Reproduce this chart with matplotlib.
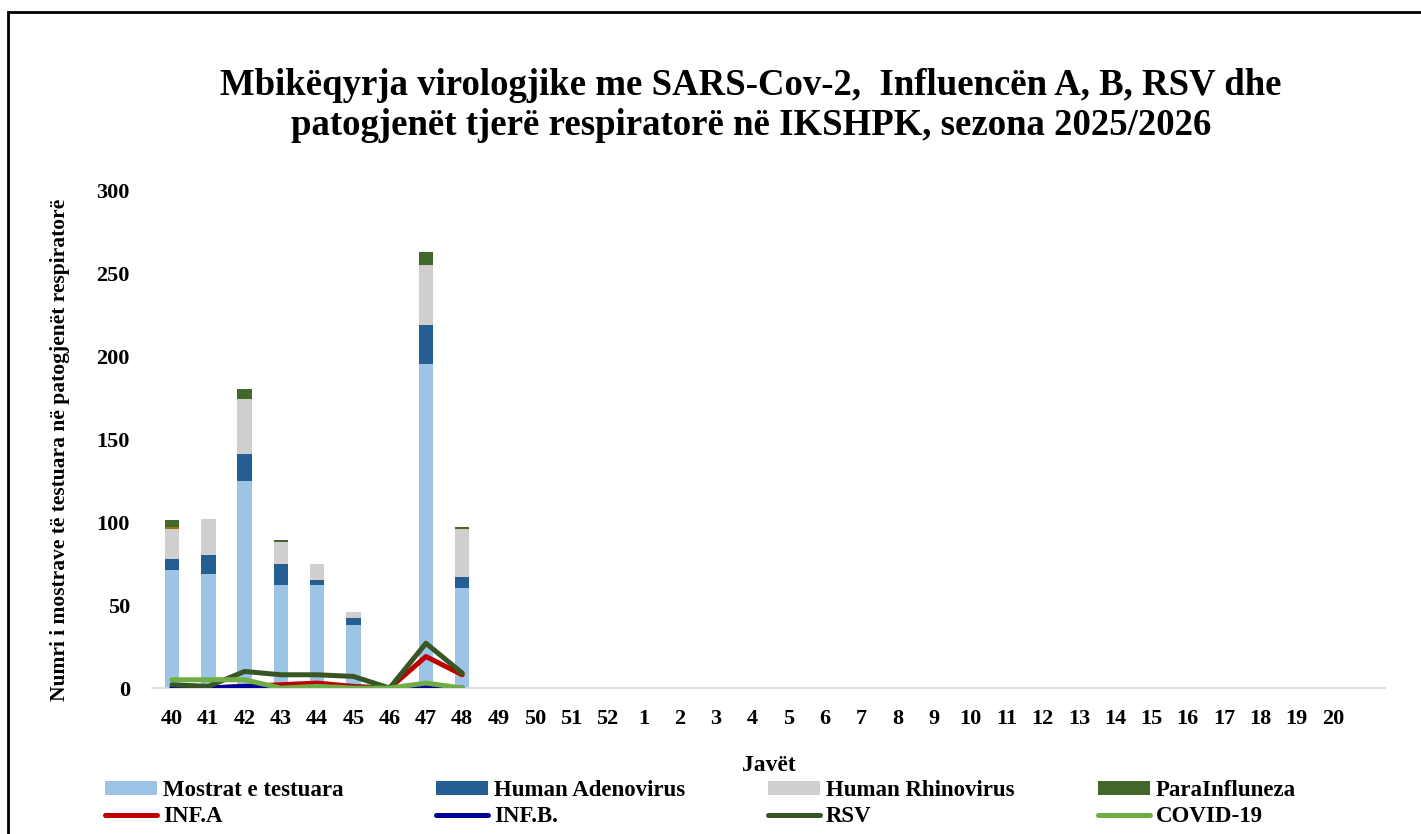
import matplotlib
matplotlib.use("Agg")
import matplotlib.pyplot as plt
from matplotlib.patches import Rectangle
import numpy as np

plt.rcParams['font.family'] = ['Liberation Serif', 'DejaVu Serif']
plt.rcParams['font.weight'] = 'bold'

# ---- data ----
weeks = ['40', '41', '42', '43', '44', '45', '46', '47', '48', '49', '50', '51', '52',
         '1', '2', '3', '4', '5', '6', '7', '8', '9', '10', '11', '12', '13', '14',
         '15', '16', '17', '18', '19', '20']
mostrat = [71, 69, 125, 62, 62, 38, 0, 195, 60]
adeno = [7, 11, 16, 13, 3, 4, 0, 24, 7]
rhino = [18, 22, 33, 13, 10, 4, 0, 36, 29]
tjeter = [1, 0, 0, 0, 0, 0, 0, 0, 0]
para = [4, 0, 6, 1, 0, 0, 0, 8, 1]
inf_a = [0, 0, 1, 2, 3, 1, 0, 19, 8]
inf_b = [0, 0, 1, 0, 0, 0, 0, 1, 0]
rsv = [2, 1, 10, 8, 8, 7, 0, 27, 9]
covid = [5, 5, 5, 0, 1, 0, 0, 3, 0]

fig = plt.figure(figsize=(14.21, 8.34), dpi=100)
ax = fig.add_axes([0.107, 0.175, 0.868, 0.597])

x = np.arange(len(mostrat))
w = 0.4
bottom = np.zeros(len(x))
bar_specs = [(mostrat, '#9DC3E6', 'Mostrat e testuara'),
             (adeno, '#255E91', 'Human Adenovirus'),
             (rhino, '#D0CECE', 'Human Rhinovirus'),
             (tjeter, '#9E7800', None),
             (para, '#43682B', 'ParaInfluneza')]
bars = {}
for vals, col, lab in bar_specs:
    b = ax.bar(x, vals, w, bottom=bottom, color=col, zorder=2)
    if lab:
        bars[lab] = b
    bottom += np.array(vals)

lines = {}
for vals, col, lab in [(inf_a, '#C00000', 'INF.A'),
                       (inf_b, '#000099', 'INF.B.'),
                       (rsv, '#375623', 'RSV'),
                       (covid, '#70AD47', 'COVID-19')]:
    ln, = ax.plot(x, vals, color=col, lw=3.6, solid_capstyle='round', zorder=3)
    lines[lab] = ln

ax.set_xlim(-0.55, 33.45)
ax.set_ylim(0, 300)
ax.set_xticks(np.arange(len(weeks)))
ax.set_xticklabels(weeks)
ax.set_yticks(range(0, 301, 50))
ax.tick_params(axis='both', length=0, labelsize=16)
ax.tick_params(axis='x', pad=15)
ax.tick_params(axis='y', pad=16)
for s in ['top', 'right', 'left']:
    ax.spines[s].set_visible(False)
ax.spines['bottom'].set_color('#D9D9D9')
ax.spines['bottom'].set_linewidth(1.2)

ax.set_ylabel('Numri i mostrave të testuara në patogjenët respiratorë',
              fontsize=15.5, fontweight='bold', labelpad=18)
ax.yaxis.set_label_coords(-0.0665, 0.478)
ax.set_xlabel('Javët', fontsize=17, fontweight='bold', labelpad=19)

fig.text(0.5285, 0.873,
         'Mbikëqyrja virologjike me SARS-Cov-2,  Influencën A, B, RSV dhe\n'
         'patogjenët tjerë respiratorë në IKSHPK, sezona 2025/2026',
         ha='center', va='center', fontsize=26.5, fontweight='bold', linespacing=1.19)

# legend: four fixed-pitch columns, bars on top row, lines below
columns = [(bars['Mostrat e testuara'], 'Mostrat e testuara', lines['INF.A'], 'INF.A'),
           (bars['Human Adenovirus'], 'Human Adenovirus', lines['INF.B.'], 'INF.B.'),
           (bars['Human Rhinovirus'], 'Human Rhinovirus', lines['RSV'], 'RSV'),
           (bars['ParaInfluneza'], 'ParaInfluneza', lines['COVID-19'], 'COVID-19')]
col_x = [105, 436, 768, 1098]
for cx, (h1, l1, h2, l2) in zip(col_x, columns):
    leg = fig.legend([h1, h2], [l1, l2], loc='upper left',
                     bbox_to_anchor=(cx / 1421, 1 - 780 / 834), frameon=False,
                     fontsize=16.5, handlelength=2.27, handleheight=0.55,
                     handletextpad=0.26, labelspacing=0.22, borderpad=0,
                     borderaxespad=0)

# outer frame
fig.patches.append(Rectangle((8 / 1421, -0.1), 1.2, 1 - 12 / 834 + 0.1,
                             transform=fig.transFigure, fill=False,
                             edgecolor='black', lw=2))

fig.savefig('out.png', dpi=100)
